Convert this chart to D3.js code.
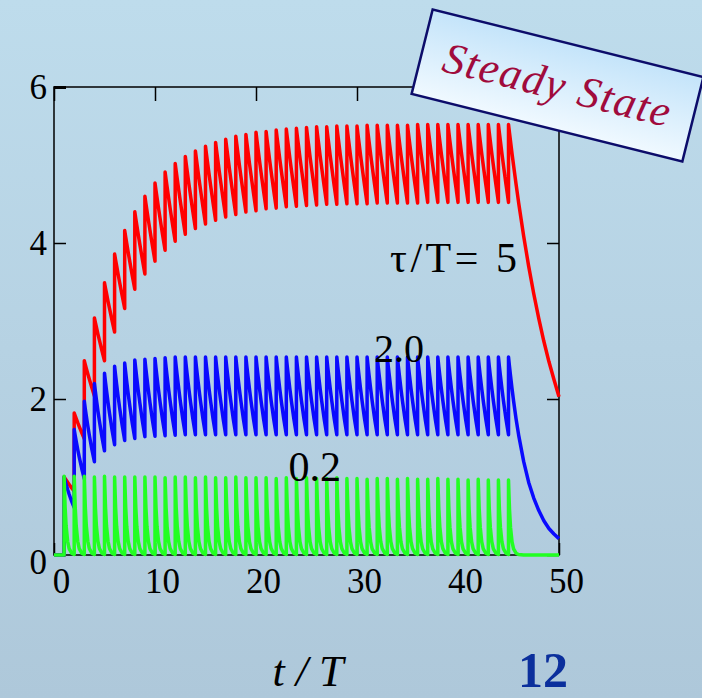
<!DOCTYPE html>
<html><head><meta charset="utf-8">
<script src="https://cdn.jsdelivr.net/npm/d3@7"></script>
<style>html,body{margin:0;padding:0;overflow:hidden;background:#b8d3e4}svg{display:block}</style>
</head><body>
<script>
// ---------- data ----------
const xTicks = [0, 10, 20, 30, 40, 50];
const yTicks = [0, 2, 4, 6];
const pulseTimes = [1,2,3,4,5,6,7,8,9,10,11,12,13,14,15,16,17,18,19,20,21,22,23,24,25,26,27,28,29,30,31,32,33,34,35,36,37,38,39,40,41,42,43,44,45];

// peak value reached at each pulse
const redPeaks = [1.00,1.82,2.49,3.04,3.49,3.86,4.16,4.40,4.60,4.77,4.91,5.02,5.11,5.18,5.24,5.29,5.33,5.37,5.39,5.42,5.43,5.45,5.46,5.47,5.48,5.49,5.49,5.50,5.50,5.50,5.51,5.51,5.51,5.51,5.51,5.52,5.52,5.52,5.52,5.52,5.52,5.52,5.52,5.52,5.52];
const bluePeaks = [1.00,1.61,1.97,2.20,2.33,2.42,2.46,2.50,2.51,2.52,2.53,2.54,2.54,2.54,2.54,2.54,2.54,2.54,2.54,2.54,2.54,2.54,2.54,2.54,2.54,2.54,2.54,2.54,2.54,2.54,2.54,2.54,2.54,2.54,2.54,2.54,2.54,2.54,2.54,2.54,2.54,2.54,2.54,2.54,2.54];
const greenPeaks = [1.01,1.01,1.01,1.00,1.01,1.00,1.00,1.00,1.00,1.00,0.99,1.00,1.00,0.99,1.00,0.99,0.99,1.00,0.99,0.99,0.99,0.98,0.99,0.98,0.99,0.98,0.98,0.99,0.98,0.98,0.97,0.98,0.98,0.97,0.98,0.97,0.97,0.98,0.97,0.97,0.96,0.97,0.96,0.96,0.96];

// decay within one period: time after pulse, and fraction of the peak remaining
const decayDt   = [0, 0.1, 0.2, 0.35, 0.5, 0.75, 1.0];
const redDecay  = [1, 0.980, 0.961, 0.932, 0.905, 0.861, 0.819];
const blueDecay = [1, 0.951, 0.905, 0.839, 0.779, 0.687, 0.607];
const greenDecay= [1, 0.607, 0.368, 0.174, 0.082, 0.024, 0.007];

// free decay after the pulse train stops
const tailT     = [46, 46.5, 47, 47.5, 48, 48.5, 49, 49.5, 50];
const redTail   = [4.52, 4.09, 3.70, 3.35, 3.03, 2.74, 2.48, 2.25, 2.03];
const blueTail  = [1.54, 1.20, 0.93, 0.73, 0.57, 0.44, 0.34, 0.27, 0.21];
const greenTail = [0.007, 0, 0, 0, 0, 0, 0, 0, 0];

const seriesNames = ["τ/T= 5", "2.0", "0.2"];

// ---------- drawing ----------
const W = 702, H = 698;
const svg = d3.select("body").append("svg").attr("width", W).attr("height", H);
const defs = svg.append("defs");
const bg = defs.append("linearGradient").attr("id","bg").attr("x1",0).attr("y1",0).attr("x2",0).attr("y2",1);
bg.append("stop").attr("offset","0%").attr("stop-color","#bedcec");
bg.append("stop").attr("offset","100%").attr("stop-color","#aec8da");
const bx = defs.append("linearGradient").attr("id","boxg").attr("x1",0).attr("y1",0).attr("x2",0).attr("y2",1);
bx.append("stop").attr("offset","0%").attr("stop-color","#c4e4fa");
bx.append("stop").attr("offset","100%").attr("stop-color","#f0f9ff");

svg.append("rect").attr("width",W).attr("height",H).attr("fill","url(#bg)");

const x = d3.scaleLinear().domain([0,50]).range([54,559]);
const y = d3.scaleLinear().domain([0,6]).range([555,87]);

function buildSeries(peaks, decay, tailV){
  const pts = [[0,0],[pulseTimes[0],0]];
  pulseTimes.forEach((t,i)=>{
    const p = peaks[i];
    pts.push([t,p]);
    decayDt.forEach((dt,k)=>{ if(k>0) pts.push([t+dt, p*decay[k]]); });
  });
  tailT.forEach((t,i)=>pts.push([t, tailV[i]]));
  return pts;
}
const line = d3.line().x(d=>x(d[0])).y(d=>y(d[1]));

const plot = svg.append("g");
const series = [
  {pts: buildSeries(redPeaks, redDecay, redTail), color:"#ff0000"},
  {pts: buildSeries(bluePeaks, blueDecay, blueTail), color:"#0a0aff"},
  {pts: buildSeries(greenPeaks, greenDecay, greenTail), color:"#22ff22"}
];

// frame
svg.append("rect").attr("x",x(0)).attr("y",y(6)).attr("width",x(50)-x(0)).attr("height",y(0)-y(6))
  .attr("fill","none").attr("stroke","#000").attr("stroke-width",1.5);

// axes
const font = "'Liberation Serif','Times New Roman',serif";
const gB = svg.append("g").attr("transform",`translate(0,${y(0)})`)
  .call(d3.axisBottom(x).tickValues(xTicks).tickSize(-12).tickPadding(13).tickFormat(d3.format("d")));
const gT = svg.append("g").attr("transform",`translate(0,${y(6)})`)
  .call(d3.axisTop(x).tickValues(xTicks).tickSize(-14).tickFormat(""));
const gL = svg.append("g").attr("transform",`translate(${x(0)},0)`)
  .call(d3.axisLeft(y).tickValues(yTicks).tickSize(-12).tickPadding(7).tickFormat(d3.format("d")));
const gR = svg.append("g").attr("transform",`translate(${x(50)},0)`)
  .call(d3.axisRight(y).tickValues(yTicks).tickSize(-12).tickFormat(""));
[gB,gT,gL,gR].forEach(g=>{
  g.select(".domain").remove();
  g.selectAll(".tick line").attr("stroke","#000").attr("stroke-width",1.5);
  g.selectAll("text").attr("fill","#000").style("font-family",font).style("font-size","35px");
});
gB.selectAll("text").attr("x",7);
gL.selectAll(".tick").filter(d=>d===0).select("text").attr("dy","0.52em");
gL.select(".tick:last-of-type line").attr("stroke-width",3);

series.forEach(s=>{
  plot.append("path").datum(s.pts).attr("d",line).attr("fill","none")
    .attr("stroke",s.color).attr("stroke-width",3.5).attr("stroke-linejoin","round");
});
plot.raise();

// series labels
svg.append("text").attr("x",517).attr("y",272).attr("text-anchor","end")
  .attr("textLength",127).attr("lengthAdjust","spacing")
  .style("font-family",font).style("font-size","42px").text(seriesNames[0]);
svg.append("text").attr("x",374).attr("y",362).attr("text-anchor","start")
  .style("font-family",font).style("font-size","40px").text(seriesNames[1]);
svg.append("text").attr("x",341).attr("y",481).attr("text-anchor","end")
  .style("font-family",font).style("font-size","42px").text(seriesNames[2]);

// Steady State box
const box = svg.append("g").attr("transform","translate(557.5,85.5) rotate(14)");
box.append("rect").attr("x",-139.5).attr("y",-43.5).attr("width",279).attr("height",87)
  .attr("fill","url(#boxg)").attr("stroke","#0c0c6a").attr("stroke-width",2.5);
box.append("text").attr("x",0).attr("y",14).attr("text-anchor","middle")
  .style("font-family",font).style("font-style","italic").style("font-size","44px")
  .style("letter-spacing","1.5px").attr("fill","#a00b3c").text("Steady State");

// axis title and slide number
svg.append("text").attr("x",308).attr("y",686).attr("text-anchor","middle")
  .style("font-family",font).style("font-style","italic").style("font-size","44px").text("t / T");
svg.append("text").attr("x",543).attr("y",687).attr("text-anchor","middle")
  .style("font-family",font).style("font-weight","bold").style("font-size","50px")
  .attr("fill","#0b2f9c").text("12");
</script>
</body></html>
